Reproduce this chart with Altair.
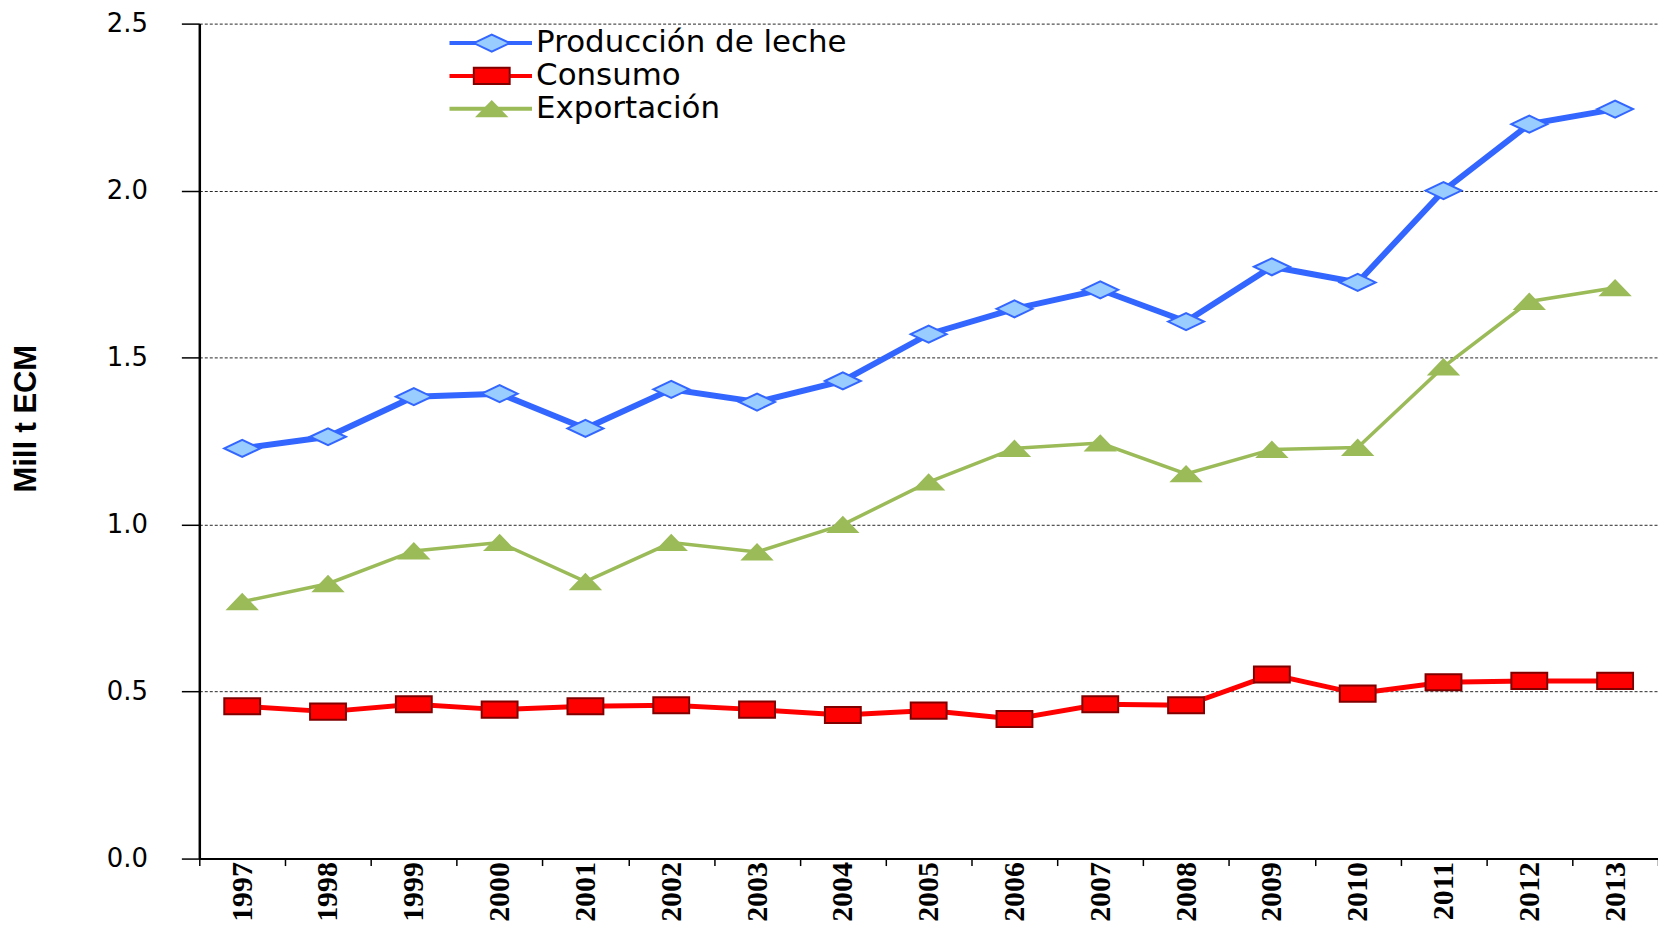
import altair as alt
import pandas as pd

years = [str(y) for y in range(1997, 2014)]
produccion = [1.228, 1.263, 1.383, 1.392, 1.288, 1.405, 1.367, 1.430, 1.570,
              1.646, 1.703, 1.608, 1.772, 1.725, 2.000, 2.199, 2.244]
consumo = [0.456, 0.440, 0.462, 0.446, 0.456, 0.459, 0.446, 0.430, 0.443,
           0.418, 0.462, 0.459, 0.551, 0.494, 0.528, 0.532, 0.532]
exportacion = [0.769, 0.823, 0.921, 0.946, 0.829, 0.946, 0.918, 1.000, 1.127,
               1.228, 1.244, 1.152, 1.225, 1.231, 1.472, 1.668, 1.709]
series = ["Producción de leche", "Consumo", "Exportación"]
codes = ["1", "2", "3"]

line_colors = ["#3366FF", "#FF0000", "#9BBB59"]
fill_colors = ["#99CCFF", "#FF0000", "#9BBB59"]
edge_colors = ["#3366FF", "#800000", "#9BBB59"]
line_widths = [6, 5, 3.5]
diamond = "M-2,0 L0,-0.95 L2,0 L0,0.95 Z"
square = "M-2,-0.9 L2,-0.9 L2,0.9 L-2,0.9 Z"
triangle = "M-1.6,0.83 L0,-0.83 L1.6,0.83 Z"
shapes = [diamond, square, triangle]
legend_line = "M-4.6,0 L4.6,0"

rows = []
for s, c, vals in zip(series, codes, [produccion, consumo, exportacion]):
    for y, v in zip(years, vals):
        rows.append({"anio": y, "serie": s, "codigo": c, "valor": v})
df = pd.DataFrame(rows)

x_enc = alt.X(
    "anio:O", title=None,
    scale=alt.Scale(type="band", paddingInner=0, paddingOuter=0),
    axis=alt.Axis(tickBand="extent", labelAngle=270, labelFont="Liberation Serif",
                  labelFontWeight="bold", labelFontSize=30, labelColor="black",
                  labelPadding=-4, tickSize=7, tickColor="black", tickWidth=1.5,
                  domainColor="black", domainWidth=2, grid=False),
)
y_enc = alt.Y(
    "valor:Q",
    scale=alt.Scale(domain=[0, 2.5], nice=False, zero=True),
    axis=alt.Axis(values=[0, 0.5, 1, 1.5, 2, 2.5], format=".1f", title="Mill t ECM",
                  labelFont="DejaVu Sans", labelFontSize=26, labelColor="black",
                  labelPadding=34, tickSize=18, tickColor="black", tickWidth=1.5,
                  domainColor="black", domainWidth=2.5, grid=True, gridColor="black",
                  gridDash=[3, 2], gridWidth=1, gridOpacity=0.85,
                  titleFont="Liberation Sans", titleFontWeight="bold", titleFontSize=31,
                  titleColor="black", titleAngle=270, titleAlign="center",
                  titleBaseline="middle", titleX=-173, titleY=396),
)

base = alt.Chart(df).encode(x=x_enc, y=y_enc)

layers = []
for i, s in enumerate(series):
    sub = base.transform_filter(alt.datum.serie == s)
    layers.append(sub.mark_line(color=line_colors[i], strokeWidth=line_widths[i]))
for i, s in enumerate(series):
    sub = base.transform_filter(alt.datum.serie == s)
    layers.append(sub.mark_point(shape=shapes[i], size=324, filled=True,
                                 fill=fill_colors[i], stroke=edge_colors[i],
                                 strokeWidth=2, opacity=1))

legend_common = dict(orient="none", title=None, padding=0, rowPadding=1,
                     labelFont="DejaVu Sans", labelFontSize=31, labelColor="black",
                     labelLimit=0, symbolSize=324, symbolOpacity=1)

legend_a = base.transform_filter("false").mark_point(filled=False).encode(
    color=alt.Color("codigo:N", scale=alt.Scale(domain=codes, range=line_colors),
                    legend=alt.Legend(symbolType=legend_line, symbolStrokeWidth=4,
                                      labelExpr="' '", legendX=277, legendY=4,
                                      labelOffset=29, **legend_common))
)

leg_b = alt.Legend(symbolStrokeWidth=2, legendX=278, legendY=4, labelOffset=29,
                   **legend_common)
legend_b = base.transform_filter("false").mark_point(filled=True).encode(
    fill=alt.Fill("serie:N", scale=alt.Scale(domain=series, range=fill_colors), legend=leg_b),
    stroke=alt.Stroke("serie:N", scale=alt.Scale(domain=series, range=edge_colors), legend=leg_b),
    shape=alt.Shape("serie:N", scale=alt.Scale(domain=series, range=shapes), legend=leg_b),
)

chart = alt.layer(*layers, legend_a, legend_b).properties(
    width=1464, height=838,
    autosize=alt.AutoSizeParams(type="none"),
    padding={"left": 192, "top": 14, "right": 0, "bottom": 66},
).configure_view(stroke=None)

chart.save("out.html", embed_options={"renderer": "svg", "actions": False})
